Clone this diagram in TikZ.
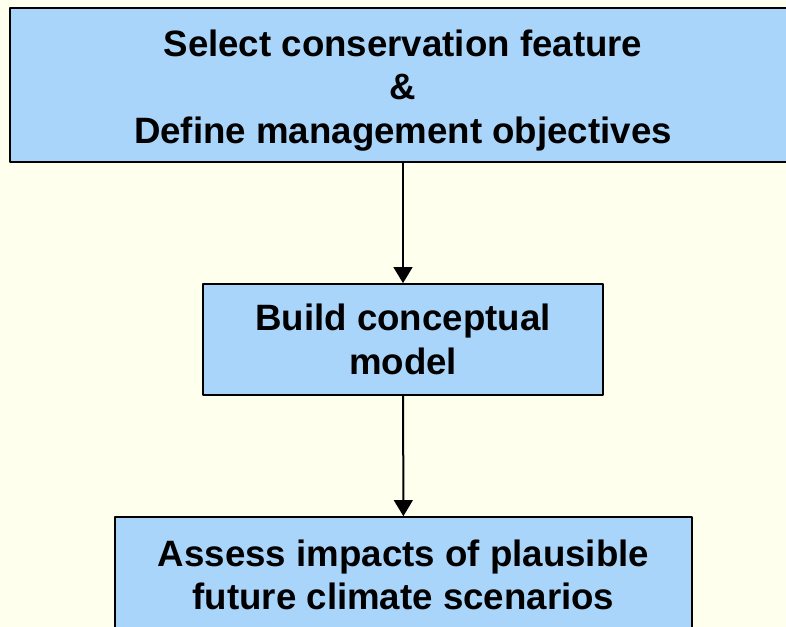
\documentclass[tikz,border=0pt]{standalone}
\usepackage{fontspec}
\setmainfont{Liberation Sans}
\usepackage[usenames]{xcolor}
\usepackage{tikz}
\usetikzlibrary{arrows.meta}
\definecolor{cream}{RGB}{255,255,238}
\definecolor{boxblue}{RGB}{170,213,251}

\begin{document}
\begin{tikzpicture}[line cap=round,line join=round,x=0.75pt,y=-0.75pt,
  stepbox/.style={draw=black,line width=1.2pt,fill=boxblue,align=center,inner sep=0pt,
    font=\fontsize{27.5}{32.5}\selectfont\bfseries},
  flow/.style={-{Triangle[width=14pt,length=12pt]},line width=1.5pt}]
\useasboundingbox (0,0) rectangle (786,627);
\clip (0,0) rectangle (786,627);
\fill[cream] (0,0) rectangle (786,627);
\node[stepbox,minimum width=786*0.75pt,minimum height=154*0.75pt] (select) at (403,85)
  {\rule{0pt}{28pt}Select conservation feature\\\&\\Define management objectives};
\node[stepbox,minimum width=400*0.75pt,minimum height=111*0.75pt] (build) at (403,339.5)
  {Build conceptual\\model};
\node[stepbox,minimum width=577*0.75pt,minimum height=116*0.75pt] (assess) at (403.5,575)
  {Assess impacts of plausible\\future climate scenarios};
\draw[flow] (select) -- (build);
\draw[flow] (build) -- (assess);
\end{tikzpicture}
\end{document}
